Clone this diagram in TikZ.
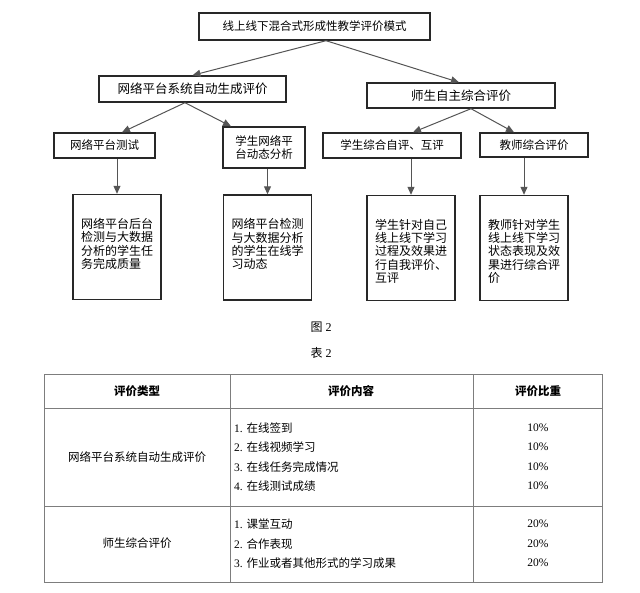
\documentclass[tikz,border=0pt]{standalone}
\usepackage{fontspec}
\setmainfont{Liberation Serif}
\newfontfamily\cjk{Noto Sans CJK SC}
\usepackage{xcolor}
\definecolor{BoxLine}{RGB}{40,40,40}
\definecolor{ArrowGray}{RGB}{85,85,85}
\definecolor{RuleGray}{RGB}{125,125,125}
\usetikzlibrary{positioning}
\usetikzlibrary{arrows.meta}

\begin{document}
\begin{tikzpicture}[
      , x=1pt, y=-1pt
      , stage/.style={draw=BoxLine, line width=1.4pt, inner sep=0pt, align=center, font=\cjk\fontsize{11.5}{12.5}\selectfont}
      , detail/.style={stage, minimum width=88pt, minimum height=105pt}
      , link/.style={->, color=ArrowGray, line width=1pt}
      , cell/.style={inner sep=0pt, font=\fontsize{11.5}{13}\selectfont}
      , on grid
      ]

      \tikzset{>={Triangle[length=8pt,width=7pt]}}
      \useasboundingbox (0,0) rectangle (640,592);

      % diagram
      \node[stage, minimum width=231pt, minimum height=27pt] (top) at (314.5,26.5) {线上线下混合式形成性教学评价模式};

      \node[stage, minimum width=187pt, minimum height=26pt, font=\cjk\fontsize{12.5}{13}\selectfont, below left = 62.5pt and 122pt of top] (auto) {网络平台系统自动生成评价};
      \node[stage, minimum width=188pt, minimum height=25pt, font=\cjk\fontsize{12.5}{13}\selectfont, below right = 69pt and 146.5pt of top] (mutual) {师生自主综合评价};

      \node[stage, minimum width=101pt, minimum height=25pt, below left = 56.5pt and 88pt of auto] (test) {网络平台测试};
      \node[stage, minimum width=82pt, minimum height=41pt, below right = 58.5pt and 71.5pt of auto] (dyn) {学生网络平\\台动态分析};
      \node[stage, minimum width=138pt, minimum height=25pt, below left = 50pt and 69pt of mutual] (self) {学生综合自评、互评};
      \node[stage, minimum width=108pt, minimum height=24pt, below right = 49.5pt and 73pt of mutual] (teach) {教师综合评价};

      \def\detailtext#1{\parbox[t][80pt][t]{72pt}{\raggedright\fontsize{12}{13.4}\selectfont\vspace*{11pt}#1}}
      \node[detail, below right = 101.5pt and 12.5pt of test] (test-d) {\detailtext{网络平台后台\\检测与大数据\\分析的学生任\\务完成质量}};
      \node[detail, below right = 100pt and 3.5pt of dyn] (dyn-d) {\detailtext{网络平台检测\\与大数据分析\\的学生在线学\\习动态}};
      \node[detail, below right = 102.5pt and 19pt of self] (self-d) {\detailtext{学生针对自己\\线上线下学习\\过程及效果进\\行自我评价、\\互评}};
      \node[detail, below left = 103pt and 10pt of teach] (teach-d) {\detailtext{教师针对学生\\线上线下学习\\状态表现及效\\果进行综合评\\价}};

      \coordinate (top-out) at ([xshift=11.5pt]top.south);
      \coordinate (auto-out) at ([xshift=-7.5pt]auto.south);
      \coordinate (mutual-out) at ([xshift=10pt]mutual.south);

      \draw[link] (top-out) -- (auto.north);
      \draw[link] (top-out) -- ([xshift=-2pt]mutual.north);
      \draw[link] (auto-out) -- ([xshift=17.5pt]test.north);
      \draw[link] (auto-out) -- ([xshift=-33pt]dyn.north);
      \draw[link] (mutual-out) -- ([xshift=21pt]self.north);
      \draw[link] (mutual-out) -- ([xshift=-20pt]teach.north);

      \draw[link] (test.south -| test-d.north) -- (test-d.north);
      \draw[link] (dyn.south -| dyn-d.north) -- (dyn-d.north);
      \draw[link] (self.south -| self-d.north) -- (self-d.north);
      \draw[link] (teach.south -| teach-d.north) -- (teach-d.north);

      \node[cell, font=\fontsize{12}{13}\selectfont] (fig-cap) at (321,327) {{\cjk 图} 2};
      \node[cell, font=\fontsize{12}{13}\selectfont] (tab-cap) at (321,353) {{\cjk 表} 2};

      % table
      \draw[RuleGray, line width=0.9pt] (44,374) rectangle (602,582);
      \draw[RuleGray, line width=0.9pt] (44,408) -- (602,408);
      \draw[RuleGray, line width=0.9pt] (44,506) -- (602,506);
      \draw[RuleGray, line width=0.9pt] (230,374) -- (230,582);
      \draw[RuleGray, line width=0.9pt] (473,374) -- (473,582);

      \node[cell, font=\cjk\bfseries\fontsize{11.5}{13}\selectfont] (head-type) at (137,391) {评价类型};
      \node[cell, font=\cjk\bfseries\fontsize{11.5}{13}\selectfont] (head-content) at (351,391) {评价内容};
      \node[cell, font=\cjk\bfseries\fontsize{11.5}{13}\selectfont] (head-share) at (538,391) {评价比重};

      \node[cell] (type-auto) at (137,457) {{\cjk 网络平台系统自动生成评价}};
      \node[cell] (type-mutual) at (137,543) {{\cjk 师生综合评价}};

      \node[cell, anchor=west] (item-a1) at (234,428) {1. {\cjk 在线签到}};
      \node[cell, anchor=west] (item-a2) at (234,447) {2. {\cjk 在线视频学习}};
      \node[cell, anchor=west] (item-a3) at (234,467) {3. {\cjk 在线任务完成情况}};
      \node[cell, anchor=west] (item-a4) at (234,486) {4. {\cjk 在线测试成绩}};
      \node[cell, anchor=west] (item-b1) at (234,524) {1. {\cjk 课堂互动}};
      \node[cell, anchor=west] (item-b2) at (234,544) {2. {\cjk 合作表现}};
      \node[cell, anchor=west] (item-b3) at (234,563) {3. {\cjk 作业或者其他形式的学习成果}};

      \node[cell] (share-a1) at (538,428) {10\%};
      \node[cell] (share-a2) at (538,447) {10\%};
      \node[cell] (share-a3) at (538,467) {10\%};
      \node[cell] (share-a4) at (538,486) {10\%};
      \node[cell] (share-b1) at (538,524) {20\%};
      \node[cell] (share-b2) at (538,544) {20\%};
      \node[cell] (share-b3) at (538,563) {20\%};
    \end{tikzpicture}
\end{document}
